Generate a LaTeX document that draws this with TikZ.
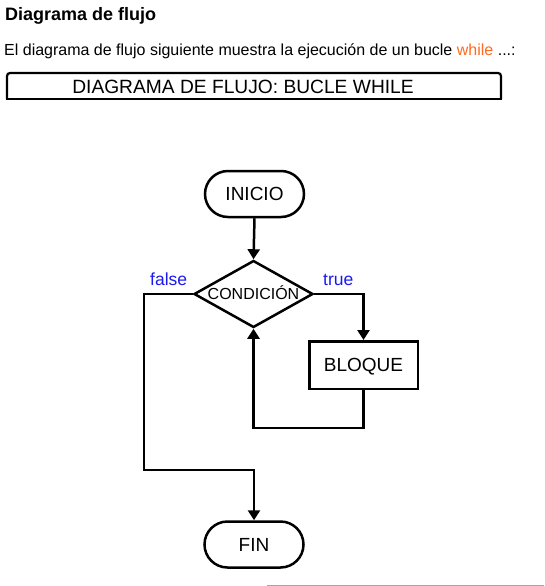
\documentclass[tikz,border=0pt]{standalone}
\usepackage{fontspec}
\setmainfont{Liberation Sans}
\usetikzlibrary{shapes.geometric,shapes.misc,arrows.meta}
\definecolor{lblblue}{HTML}{1A1AF0}
\definecolor{kworange}{HTML}{FF6A1F}
\definecolor{rulegray}{HTML}{A6A6A6}
\begin{document}
\begin{tikzpicture}[x=1pt,y=-1pt,
  fc/.style={line width=2.5pt},
  term/.style={fc, draw, rounded rectangle, minimum width=99pt, minimum height=46pt, inner sep=0pt,
    font=\fontsize{19}{22}\selectfont, text height=13.6pt, text depth=0pt},
  proc/.style={fc, draw, rectangle, minimum width=108.5pt, minimum height=47.5pt, inner sep=0pt,
    font=\fontsize{19}{22}\selectfont, text height=13.6pt, text depth=0pt},
  dec/.style={fc, draw, diamond, minimum width=119pt, minimum height=67pt, inner sep=0pt,
    font=\fontsize{16}{19}\selectfont, text height=11.5pt, text depth=0pt},
  flow/.style={fc, -{Triangle[width=12pt,length=10pt]}},
  lbl/.style={font=\fontsize{17.5}{20}\selectfont, text=lblblue, inner sep=0pt, anchor=base west},
  plain/.style={inner sep=0pt, anchor=base west},
]
\useasboundingbox (0,0) rectangle (544,586);

% header texts
\node[plain, font=\bfseries\fontsize{18}{21}\selectfont] (title) at (5,21) {Diagrama de flujo};
\node[plain, font=\fontsize{16}{19}\selectfont] (intro) at (4,56)
  {El diagrama de flujo siguiente muestra la ejecución de un bucle \textcolor{kworange}{while} ...:};

% header box
\node[minimum width=494pt, minimum height=26pt, inner sep=0pt, outer sep=0pt] (hb) at (254,86) {};
\draw[line width=2.2pt, rounded corners=3pt] (hb.south west) -- (hb.north west) -- (hb.north east) -- (hb.south east);
\draw[line width=2.2pt, line cap=rect] (hb.south west) -- (hb.south east);
\node[inner sep=0pt, font=\fontsize{19.2}{22}\selectfont, text height=13.7pt, text depth=0pt] (hbtext) at (243,86.5)
  {DIAGRAMA DE FLUJO: BUCLE WHILE};

% flowchart
\node[term] (inicio) at (254.5,194) {INICIO};
\node[dec] (cond) at (253.5,294) {\makebox[0pt]{CONDICIÓN}};
\node[proc] (bloque) at (363.5,365) {BLOQUE};
\node[term] (fin) at (254,544.5) {FIN};

\coordinate (fk) at (144,470);

\draw[flow] (inicio.south) -- (cond.north);
\draw[flow] (cond.east) -| (bloque.north);
\draw[flow] (bloque.south) -- ++(0,38) -| (cond.south);
\draw[flow] (cond.west) -| (fk) -| (fin.north);

\node[lbl] (lfalse) at (150,285) {false};
\node[lbl] (ltrue) at (323,285) {true};

% bottom rule
\draw[rulegray, line width=1pt] (267,585) -- (544,585);
\end{tikzpicture}
\end{document}
